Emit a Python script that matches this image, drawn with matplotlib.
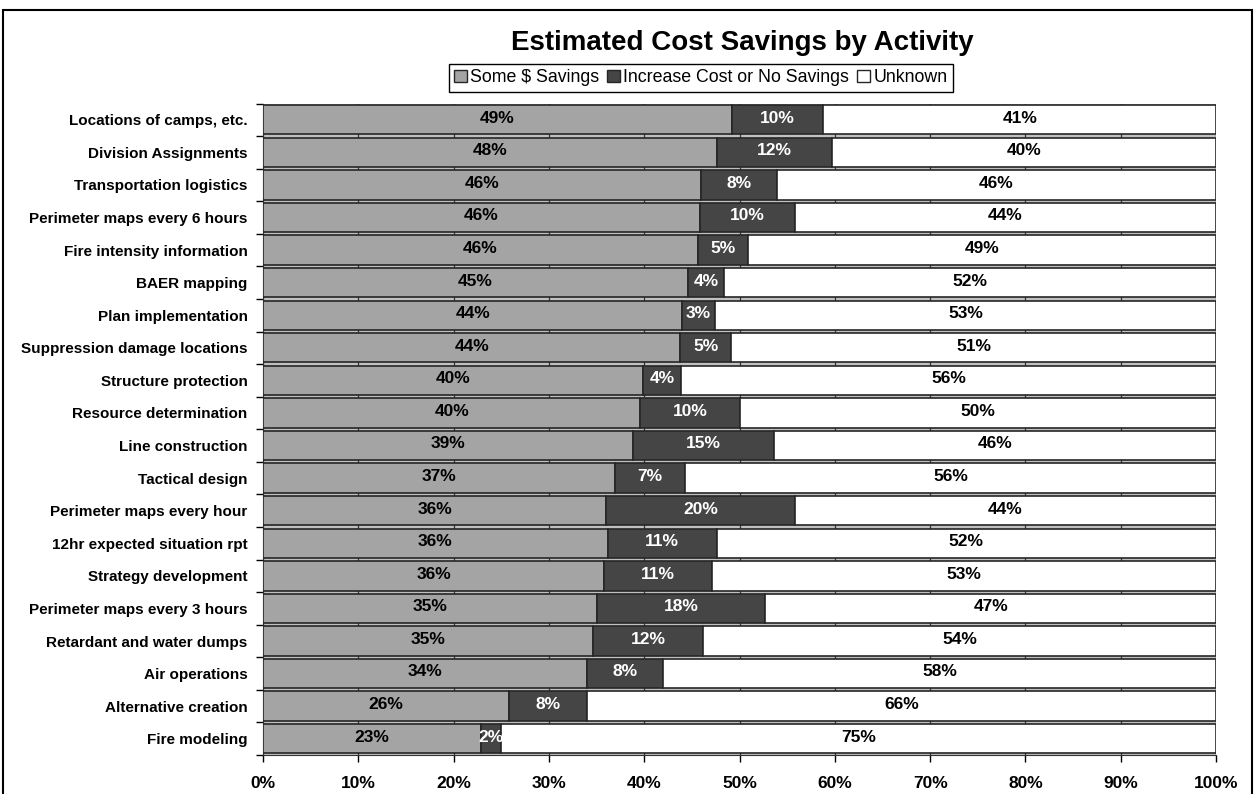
import numpy as np
import matplotlib.pyplot as plt
from matplotlib.patches import Patch, Rectangle

plt.rcParams['font.family'] = ['Liberation Sans', 'DejaVu Sans']

activities = [
    "Locations of camps, etc.",
    "Division Assignments",
    "Transportation logistics",
    "Perimeter maps every 6 hours",
    "Fire intensity information",
    "BAER mapping",
    "Plan implementation",
    "Suppression damage locations",
    "Structure protection",
    "Resource determination",
    "Line construction",
    "Tactical design",
    "Perimeter maps every hour",
    "12hr expected situation rpt",
    "Strategy development",
    "Perimeter maps every 3 hours",
    "Retardant and water dumps",
    "Air operations",
    "Alternative creation",
    "Fire modeling",
]
some_savings = [49.2, 47.6, 46.0, 45.8, 45.6, 44.6, 44.0, 43.8, 39.9, 39.6,
                38.8, 36.9, 36.0, 36.2, 35.8, 35.0, 34.6, 34.0, 25.8, 22.9]
no_savings = [9.6, 12.1, 7.9, 10.0, 5.3, 3.8, 3.4, 5.3, 4.0, 10.4,
              14.8, 7.4, 19.8, 11.4, 11.3, 17.7, 11.6, 8.0, 8.2, 2.1]
unknown = [41.2, 40.3, 46.1, 44.2, 49.1, 51.6, 52.6, 50.9, 56.1, 50.0,
           46.4, 55.7, 44.2, 52.4, 52.9, 47.3, 53.8, 58.0, 66.0, 75.0]

series = [
    ("Some $ Savings", some_savings, "#a4a4a4", "black"),
    ("Increase Cost or No Savings", no_savings, "#454545", "white"),
    ("Unknown", unknown, "white", "black"),
]

fig = plt.figure(figsize=(12.56, 7.94), dpi=100)
ax = fig.add_axes([0.2094, 0.0491, 0.7588, 0.8205])
ax.set_facecolor("#c0c0c0")

y = np.arange(len(activities))
left = np.zeros(len(activities))
for name, vals, color, txt in series:
    vals = np.array(vals)
    ax.barh(y, vals, left=left, height=0.9, color=color,
            edgecolor="#262626", linewidth=1.2, zorder=3, label=name)
    for yi, l, v in zip(y, left, vals):
        ax.text(l + v / 2, yi - 0.05, f"{v:.0f}%", ha="center", va="center",
                fontsize=12.5, fontweight="bold", color=txt, zorder=4)
    left += vals

ax.set_xlim(0, 100)
ax.set_ylim(len(activities) - 0.5, -0.5)
ax.set_xticks(np.arange(0, 101, 10))
ax.set_xticklabels([f"{t}%" for t in range(0, 101, 10)],
                   fontsize=12.5, fontweight="bold")
ax.set_yticks(y)
ax.set_yticklabels(activities, fontsize=11, fontweight="bold")
ax.set_yticks(np.arange(-0.5, len(activities)), minor=True)
ax.tick_params(axis="y", which="major", length=0, pad=11)
ax.tick_params(axis="y", which="minor", length=5, width=1, direction="out")
ax.tick_params(axis="x", length=5, width=1, direction="out", pad=10)
ax.grid(axis="x", color="#333333", linewidth=0.9, zorder=0)
ax.set_axisbelow(True)
for s in ["top", "right"]:
    ax.spines[s].set_visible(False)
ax.spines["left"].set_color("#333333")
ax.spines["bottom"].set_color("#333333")

fig.text(0.591, 0.946, "Estimated Cost Savings by Activity",
         ha="center", va="center", fontsize=20, fontweight="bold")

handles = [Patch(facecolor=c, edgecolor="#262626", label=n) for n, _, c, _ in series]
leg = fig.legend(handles=handles, loc="center", bbox_to_anchor=(0.558, 0.902),
                 ncol=3, fontsize=12.8, handlelength=0.7, handleheight=0.7,
                 handletextpad=0.2, columnspacing=0.45, borderpad=0.3,
                 fancybox=False, edgecolor="black", framealpha=1)
leg.get_frame().set_linewidth(1.0)

fig.patches.append(Rectangle((3 / 1256, -0.02), 1249 / 1256, 1.0074,
                             transform=fig.transFigure, fill=False,
                             edgecolor="black", linewidth=1.5))

fig.savefig("out.png", dpi=100)
